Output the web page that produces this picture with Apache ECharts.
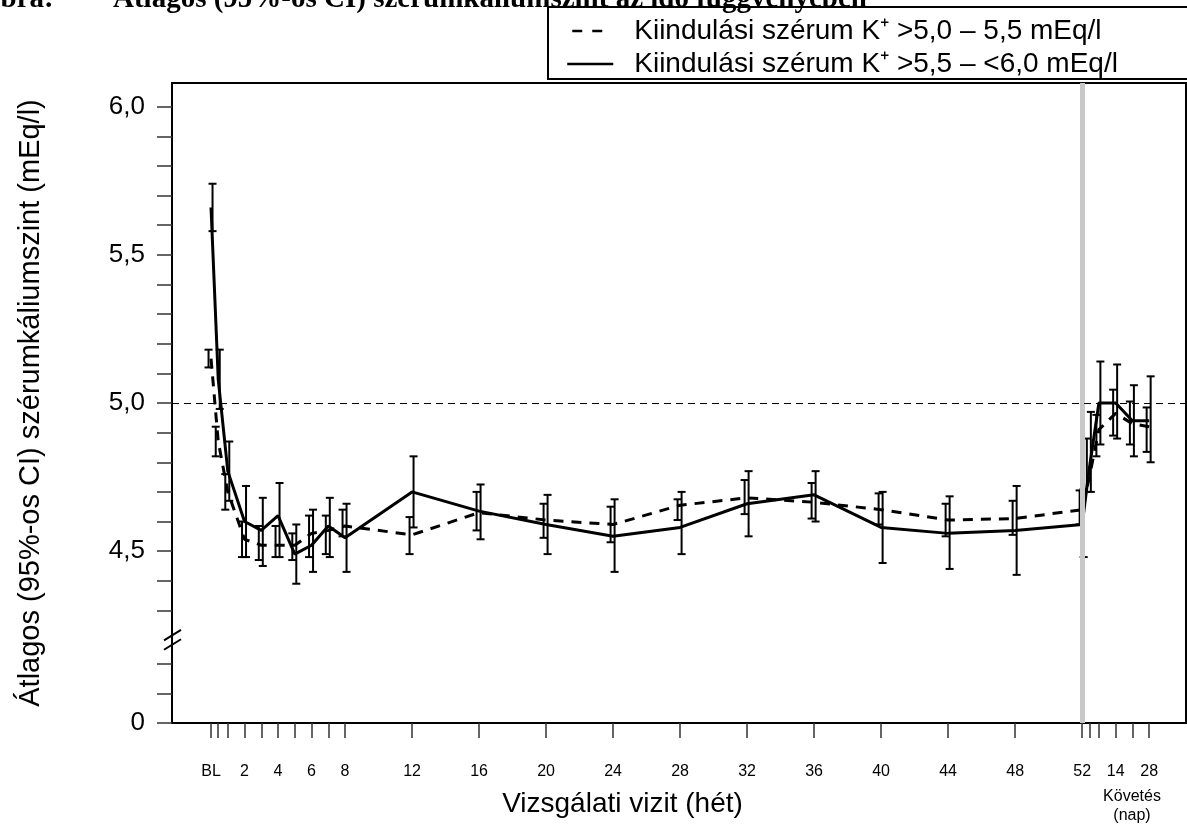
<!DOCTYPE html>
<html>
<head>
<meta charset="utf-8">
<script src="https://cdn.jsdelivr.net/npm/echarts@6/dist/echarts.min.js"></script>
<style>
html,body{margin:0;padding:0;background:#fff;}
#chart{width:1187px;height:826px;}
</style>
</head>
<body>
<div id="chart"></div>
<script>
// ---- data ----
const visitWeeks = [0, 0.43, 1, 2, 3, 4, 5, 6, 7, 8, 12, 16, 20, 24, 28, 32, 36, 40, 44, 48, 52, 52.43, 53, 54, 55, 56];
const xLabelValues = [0, 2, 4, 6, 8, 12, 16, 20, 24, 28, 32, 36, 40, 44, 48, 52, 54, 56];
const xLabelTexts = ['BL', '2', '4', '6', '8', '12', '16', '20', '24', '28', '32', '36', '40', '44', '48', '52', '14', '28'];
const yTickValues = [3.92, 4.02, 4.12, 4.3, 4.4, 4.5, 4.6, 4.7, 4.8, 4.9, 5.0, 5.1, 5.2, 5.3, 5.4, 5.5, 5.6, 5.7, 5.8, 5.9, 6.0];
const yLabelValues = [3.92, 4.5, 5.0, 5.5, 6.0];
const yLabelTexts = ['0', '4,5', '5,0', '5,5', '6,0'];

const seriesNames = ['Kiindulási szérum K\u207A >5,0 \u2013 5,5 mEq/l', 'Kiindulási szérum K\u207A >5,5 \u2013 <6,0 mEq/l'];

const dashedMean = [5.15, 4.87, 4.70, 4.54, 4.52, 4.52, 4.52, 4.56, 4.57, 4.585, 4.555, 4.63, 4.605, 4.59, 4.655, 4.68, 4.665, 4.64, 4.605, 4.61, 4.64, 4.75, 4.91, 4.965, 4.93, 4.92];
const dashedLow  = [5.12, 4.82, 4.64, 4.48, 4.47, 4.48, 4.47, 4.48, 4.49, 4.55, 4.49, 4.57, 4.545, 4.53, 4.605, 4.625, 4.61, 4.59, 4.55, 4.555, 4.59, 4.70, 4.82, 4.89, 4.86, 4.835];
const dashedHigh = [5.18, 4.92, 4.76, 4.60, 4.585, 4.585, 4.56, 4.62, 4.62, 4.64, 4.615, 4.70, 4.66, 4.65, 4.675, 4.74, 4.73, 4.695, 4.66, 4.67, 4.705, 4.88, 4.96, 5.045, 5.005, 4.985];

const solidMean = [5.66, 5.08, 4.77, 4.60, 4.57, 4.62, 4.49, 4.52, 4.585, 4.545, 4.70, 4.635, 4.59, 4.55, 4.58, 4.66, 4.69, 4.58, 4.56, 4.57, 4.59, 4.78, 5.00, 5.00, 4.94, 4.94];
const solidLow   = [5.58, 4.98, 4.67, 4.48, 4.45, 4.48, 4.39, 4.43, 4.48, 4.43, 4.58, 4.54, 4.49, 4.43, 4.49, 4.55, 4.60, 4.46, 4.44, 4.42, 4.48, 4.70, 4.86, 4.88, 4.82, 4.80];
const solidHigh  = [5.74, 5.18, 4.87, 4.72, 4.68, 4.73, 4.59, 4.64, 4.68, 4.66, 4.82, 4.725, 4.69, 4.675, 4.70, 4.77, 4.77, 4.70, 4.685, 4.72, 4.71, 4.97, 5.14, 5.13, 5.06, 5.09];

const referenceLevel = 5.0;
const endOfTreatmentWeek = 52;
const axisBreakLevel = 4.2;
const xMin = -2.33, xMax = 58.2, yMin = 3.92, yMax = 6.08;

// ---- chart ----
const FONT = '"Liberation Sans", Arial, sans-serif';
const chart = echarts.init(document.getElementById('chart'), null, {renderer: 'canvas'});

function findLabel(values, texts, v) {
  for (let i = 0; i < values.length; i++) {
    if (Math.abs(values[i] - v) < 1e-6) return texts[i];
  }
  return '';
}

function errorBars(low, high, offset) {
  return {
    type: 'custom',
    z: 4,
    clip: false,
    silent: true,
    data: visitWeeks.map((w, i) => [w, low[i], high[i]]),
    encode: {x: 0, y: [1, 2]},
    renderItem: function (params, api) {
      const x = api.value(0);
      const lo = api.coord([x, api.value(1)]);
      const hi = api.coord([x, api.value(2)]);
      const px = lo[0] + offset;
      const cw = 4;
      const st = {stroke: '#000', lineWidth: 2};
      return {
        type: 'group',
        children: [
          {type: 'line', shape: {x1: px, y1: lo[1], x2: px, y2: hi[1]}, style: st},
          {type: 'line', shape: {x1: px - cw, y1: lo[1], x2: px + cw, y2: lo[1]}, style: st},
          {type: 'line', shape: {x1: px - cw, y1: hi[1], x2: px + cw, y2: hi[1]}, style: st}
        ]
      };
    }
  };
}

const option = {
  animation: false,
  backgroundColor: '#fff',
  grid: {left: 172, right: 1, top: 83, bottom: 103, show: true, borderColor: '#000', borderWidth: 2, containLabel: false},
  legend: {
    data: [
      {name: seriesNames[0], itemStyle: {opacity: 0}, lineStyle: {type: [10, 10, 10, 100], dashOffset: -5, width: 2.5}},
      {name: seriesNames[1], itemStyle: {opacity: 0}, lineStyle: {width: 2.5}}
    ],
    orient: 'vertical',
    left: 548,
    top: 7,
    padding: [10, 90, 1, 18],
    itemWidth: 46,
    itemHeight: 14,
    itemGap: 5,
    borderColor: '#000',
    borderWidth: 2,
    selectedMode: false,
    formatter: '{t|{name}}',
    textStyle: {
      color: '#000', fontSize: 28, fontFamily: FONT,
      rich: {t: {color: '#000', fontSize: 28, fontFamily: FONT, padding: [0, 0, 0, 16]}}
    }
  },
  xAxis: {
    type: 'value',
    min: xMin,
    max: xMax,
    name: 'Vizsgálati vizit (hét)',
    nameLocation: 'middle',
    nameGap: 67,
    nameTextStyle: {color: '#000', fontSize: 28, fontFamily: FONT, padding: [0, 113, 0, 0]},
    axisLine: {show: true, onZero: false, lineStyle: {color: '#000', width: 2}},
    axisTick: {show: true, length: 15, customValues: visitWeeks, lineStyle: {color: '#333', width: 1.5}},
    axisLabel: {
      customValues: xLabelValues,
      margin: 41,
      fontSize: 16,
      color: '#000',
      fontFamily: FONT,
      formatter: v => findLabel(xLabelValues, xLabelTexts, v)
    },
    splitLine: {show: false}
  },
  yAxis: {
    type: 'value',
    min: yMin,
    max: yMax,
    name: 'Átlagos (95%-os CI) szérumkáliumszint (mEq/l)',
    nameLocation: 'middle',
    nameGap: 127,
    nameTextStyle: {color: '#000', fontSize: 29, fontFamily: FONT},
    axisLine: {show: true, onZero: false, lineStyle: {color: '#000', width: 2}},
    axisTick: {show: true, length: 15, customValues: yTickValues, lineStyle: {color: '#333', width: 1.5}},
    axisLabel: {
      customValues: yLabelValues,
      margin: 27,
      fontSize: 26,
      color: '#000',
      fontFamily: FONT,
      formatter: v => findLabel(yLabelValues, yLabelTexts, v)
    },
    splitLine: {show: false}
  },
  graphic: [
    {type: 'text', x: -14, y: 0, silent: true, style: {text: 'ábra:', font: 'bold 29px "Liberation Serif", "Times New Roman", serif', fill: '#000', verticalAlign: 'middle'}},
    {type: 'text', x: 113, y: 0, silent: true, style: {text: 'Átlagos (95%-os CI) szérumkáliumszint az idő függvényében', font: 'bold 29px "Liberation Serif", "Times New Roman", serif', fill: '#000', verticalAlign: 'middle'}},
    {type: 'text', x: 1132, y: 797, silent: true, style: {text: 'Követés', font: '16px ' + FONT, fill: '#000', align: 'center', verticalAlign: 'middle'}},
    {type: 'text', x: 1132, y: 816, silent: true, style: {text: '(nap)', font: '16px ' + FONT, fill: '#000', align: 'center', verticalAlign: 'middle'}}
  ],
  series: [
    {
      type: 'line',
      name: '__ref',
      data: [],
      z: 1,
      silent: true,
      markLine: {
        silent: true,
        symbol: 'none',
        label: {show: false},
        animation: false,
        data: [
          {xAxis: endOfTreatmentWeek, lineStyle: {color: '#c8c8c8', width: 5, type: 'solid'}},
          {yAxis: referenceLevel, lineStyle: {color: '#000', width: 1.2, type: [7, 5]}}
        ]
      }
    },
    {
      type: 'line',
      name: seriesNames[0],
      data: visitWeeks.map((w, i) => [w, dashedMean[i]]),
      symbol: 'none',
      z: 3,
      lineStyle: {color: '#000', width: 3, type: [10, 8]},
      itemStyle: {color: '#000'}
    },
    {
      type: 'line',
      name: seriesNames[1],
      data: visitWeeks.map((w, i) => [w, solidMean[i]]),
      symbol: 'none',
      z: 3,
      lineStyle: {color: '#000', width: 3, type: 'solid'},
      itemStyle: {color: '#000'}
    },
    errorBars(dashedLow, dashedHigh, -2.5),
    errorBars(solidLow, solidHigh, 1.5),
    {
      type: 'custom',
      z: 5,
      clip: false,
      silent: true,
      data: [[xMin, axisBreakLevel]],
      renderItem: function (params, api) {
        const c = api.coord([api.value(0), api.value(1)]);
        const st = {stroke: '#000', lineWidth: 2};
        const mk = dy => ({type: 'line', shape: {x1: c[0] - 8, y1: c[1] + dy + 5, x2: c[0] + 9, y2: c[1] + dy - 5.5}, style: st});
        return {type: 'group', children: [mk(-4.7), mk(4.7)]};
      }
    }
  ]
};
chart.setOption(option);
</script>
</body>
</html>
